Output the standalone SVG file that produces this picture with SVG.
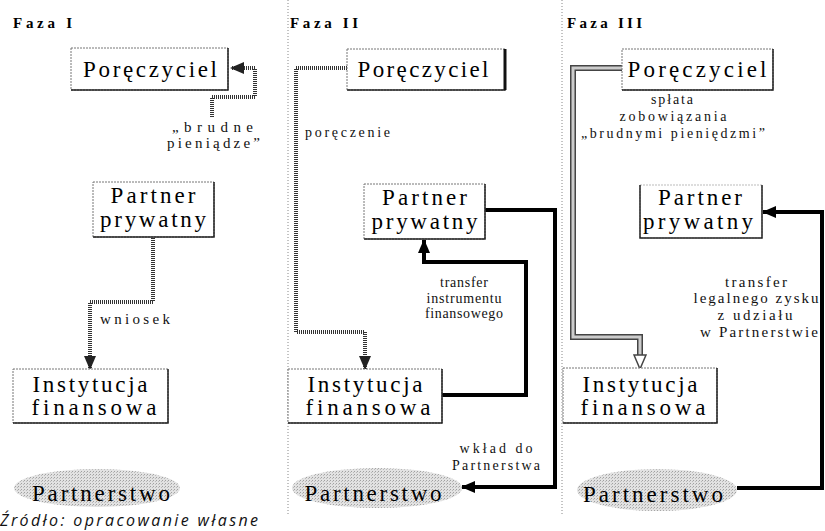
<svg xmlns="http://www.w3.org/2000/svg" width="825" height="531" viewBox="0 0 825 531">
<style>
text{font-family:'Liberation Serif','Times New Roman',serif;fill:#000}
.phase{font-size:15px;font-weight:bold}
.big{font-size:23px;text-anchor:middle}
.lbl{font-size:15px;text-anchor:middle;fill:#111}
.lbls{font-size:14px;text-anchor:middle;fill:#111}
.box{fill:#fff;stroke:#777;stroke-width:1;stroke-dasharray:2 1}
.shadow{fill:none;stroke:#222;stroke-width:1.5}
.div{stroke:#888;stroke-width:1;stroke-dasharray:1 2}
.hatch{fill:none;stroke:#333;stroke-width:4;stroke-dasharray:1 1}
.thick{fill:none;stroke:#000;stroke-width:4}
.dblo{fill:none;stroke:#444;stroke-width:6}
.dbli{fill:none;stroke:#ccc;stroke-width:3}
.cloud{fill:url(#stip)}
.src{font-family:'Open Sans','DejaVu Sans',sans-serif;font-style:italic;font-size:16px;fill:#111}
</style>
<defs>
<pattern id="stip" width="3" height="3" patternUnits="userSpaceOnUse">
<rect width="3" height="3" fill="#e2e2e2"/>
<rect x="0" y="0" width="1" height="1" fill="#a0a0a0"/>
<rect x="2" y="1" width="1" height="1" fill="#bababa"/>
</pattern>
<marker id="ahF" markerUnits="userSpaceOnUse" markerWidth="14" markerHeight="12" refX="13" refY="6" orient="auto">
<path d="M0,0 L14,6 L0,12 Z" fill="#000"/>
</marker>
<marker id="ahH" markerUnits="userSpaceOnUse" markerWidth="14" markerHeight="12" refX="13" refY="6" orient="auto">
<path d="M0,0 L14,6 L0,12 Z" fill="#222"/>
</marker>
<marker id="ahO" markerUnits="userSpaceOnUse" markerWidth="16" markerHeight="14" refX="15" refY="7" orient="auto">
<path d="M1,1 L15,7 L1,13 Z" fill="#fff" stroke="#444" stroke-width="1.5"/>
</marker>
</defs>
<rect width="825" height="531" fill="#fff"/>

<g id="dividers">
<line class="div" x1="288" y1="0" x2="288" y2="515"/>
<line class="div" x1="562" y1="0" x2="562" y2="515"/>
</g>

<g id="phase-labels">
<text class="phase" x="13" y="28" textLength="59" lengthAdjust="spacing">Faza I</text>
<text class="phase" x="290" y="28" textLength="68" lengthAdjust="spacing">Faza II</text>
<text class="phase" x="567" y="28" textLength="75" lengthAdjust="spacing">Faza III</text>
</g>

<g id="connectors">
<path class="hatch" d="M212,117 V97 H255 V68 H231" marker-end="url(#ahH)"/>
<path class="hatch" d="M153,238 V302 H90 V369" marker-end="url(#ahH)"/>
<path class="hatch" d="M347,68 H296 V332 H365 V369" marker-end="url(#ahH)"/>
<path class="thick" d="M442,395 H526 V262 H424 V240" marker-end="url(#ahF)"/>
<path class="thick" d="M485,210 H555 V487 H462" marker-end="url(#ahF)"/>
<path class="dblo" d="M622,68 H573 V337 H640 V358"/>
<path class="dbli" d="M622,68 H573 V337 H640 V358"/>
<path d="M640,356 V369" fill="none" stroke="none" marker-end="url(#ahO)"/>
<path class="thick" d="M737,488 H822 V212 H763" marker-end="url(#ahF)"/>
</g>

<g id="connector-labels">
<text class="lbl" x="212.5" y="132" textLength="81" lengthAdjust="spacing">„brudne</text>
<text class="lbl" x="213.5" y="148" textLength="93" lengthAdjust="spacing">pieniądze”</text>
<text class="lbl" x="135" y="324" textLength="70" lengthAdjust="spacing">wniosek</text>
<text class="lbls" x="347.5" y="137" textLength="85" lengthAdjust="spacing">poręczenie</text>
<text class="lbls" x="464" y="287" textLength="48" lengthAdjust="spacing">transfer</text>
<text class="lbls" x="464" y="303" textLength="75" lengthAdjust="spacing">instrumentu</text>
<text class="lbls" x="464" y="318" textLength="78" lengthAdjust="spacing">finansowego</text>
<text class="lbls" x="496" y="453" textLength="73" lengthAdjust="spacing">wkład do</text>
<text class="lbls" x="496" y="470" textLength="88" lengthAdjust="spacing">Partnerstwa</text>
<text class="lbls" x="672" y="104" textLength="42" lengthAdjust="spacing">spłata</text>
<text class="lbls" x="673" y="121" textLength="107" lengthAdjust="spacing">zobowiązania</text>
<text class="lbls" x="673" y="138" textLength="184" lengthAdjust="spacing">„brudnymi pieniędzmi”</text>
<text class="lbl" x="756" y="287" textLength="62" lengthAdjust="spacing">transfer</text>
<text class="lbl" x="756" y="303" textLength="125" lengthAdjust="spacing">legalnego zysku</text>
<text class="lbl" x="755" y="320" textLength="75" lengthAdjust="spacing">z udziału</text>
<text class="lbl" x="759" y="337" textLength="118" lengthAdjust="spacing">w Partnerstwie</text>
</g>

<g id="p1-poreczyciel">
<rect class="box" x="71" y="48" width="157" height="42"/>
<path class="shadow" d="M228,48 V90 H71"/>
<text class="big" x="150" y="77" textLength="134" lengthAdjust="spacing">Poręczyciel</text>
</g>
<g id="p1-partner">
<rect class="box" x="93" y="182" width="121" height="55"/>
<path class="shadow" d="M214,182 V237 H93"/>
<text class="big" x="153" y="203" textLength="85" lengthAdjust="spacing">Partner</text>
<text class="big" x="153" y="227" textLength="106" lengthAdjust="spacing">prywatny</text>
</g>
<g id="p1-instytucja">
<rect class="box" x="13" y="369" width="155" height="54"/>
<path class="shadow" d="M168,369 V423 H13"/>
<text class="big" x="90" y="392" textLength="115" lengthAdjust="spacing">Instytucja</text>
<text class="big" x="94" y="415" textLength="125" lengthAdjust="spacing">finansowa</text>
</g>
<g id="p1-partnerstwo">
<ellipse class="cloud" cx="97" cy="488" rx="83" ry="19"/>
<text class="big" x="101" y="501" textLength="138" lengthAdjust="spacing">Partnerstwo</text>
</g>

<g id="p2-poreczyciel">
<rect class="box" x="347" y="49" width="158" height="41"/>
<path class="shadow" d="M505,49 V90 H347"/>
<line x1="505" y1="49" x2="505" y2="90" stroke="#111" stroke-width="3"/>
<text class="big" x="423" y="77" textLength="131" lengthAdjust="spacing">Poręczyciel</text>
</g>
<g id="p2-partner">
<rect class="box" x="364" y="184" width="121" height="55"/>
<path class="shadow" d="M485,184 V239 H364"/>
<text class="big" x="424.5" y="205" textLength="85" lengthAdjust="spacing">Partner</text>
<text class="big" x="424.5" y="229" textLength="106" lengthAdjust="spacing">prywatny</text>
</g>
<g id="p2-instytucja">
<rect class="box" x="288" y="369" width="154" height="54"/>
<path class="shadow" d="M442,369 V423 H288"/>
<text class="big" x="365" y="392" textLength="115" lengthAdjust="spacing">Instytucja</text>
<text class="big" x="368" y="415" textLength="125" lengthAdjust="spacing">finansowa</text>
</g>
<g id="p2-partnerstwo">
<ellipse class="cloud" cx="377" cy="488" rx="85" ry="20"/>
<text class="big" x="373" y="501" textLength="137" lengthAdjust="spacing">Partnerstwo</text>
</g>

<g id="p3-poreczyciel">
<rect class="box" x="622" y="49" width="151" height="41"/>
<path class="shadow" d="M773,49 V90 H622"/>
<text class="big" x="697" y="77" textLength="139" lengthAdjust="spacing">Poręczyciel</text>
</g>
<g id="p3-partner">
<rect class="box" x="640" y="185" width="122" height="53" style="stroke:#bbb"/>
<path class="shadow" d="M640,185 V238 H762 V185"/>
<text class="big" x="700" y="205" textLength="84" lengthAdjust="spacing">Partner</text>
<text class="big" x="698" y="229" textLength="110" lengthAdjust="spacing">prywatny</text>
</g>
<g id="p3-instytucja">
<rect class="box" x="563" y="368" width="154" height="55"/>
<path class="shadow" d="M717,368 V423 H563"/>
<text class="big" x="640" y="392" textLength="115" lengthAdjust="spacing">Instytucja</text>
<text class="big" x="643" y="415" textLength="125" lengthAdjust="spacing">finansowa</text>
</g>
<g id="p3-partnerstwo">
<ellipse class="cloud" cx="657" cy="490" rx="80" ry="21"/>
<text class="big" x="653" y="502" textLength="140" lengthAdjust="spacing">Partnerstwo</text>
</g>

<text class="src" x="0" y="526" textLength="258" lengthAdjust="spacing">Źródło: opracowanie własne</text>
</svg>
